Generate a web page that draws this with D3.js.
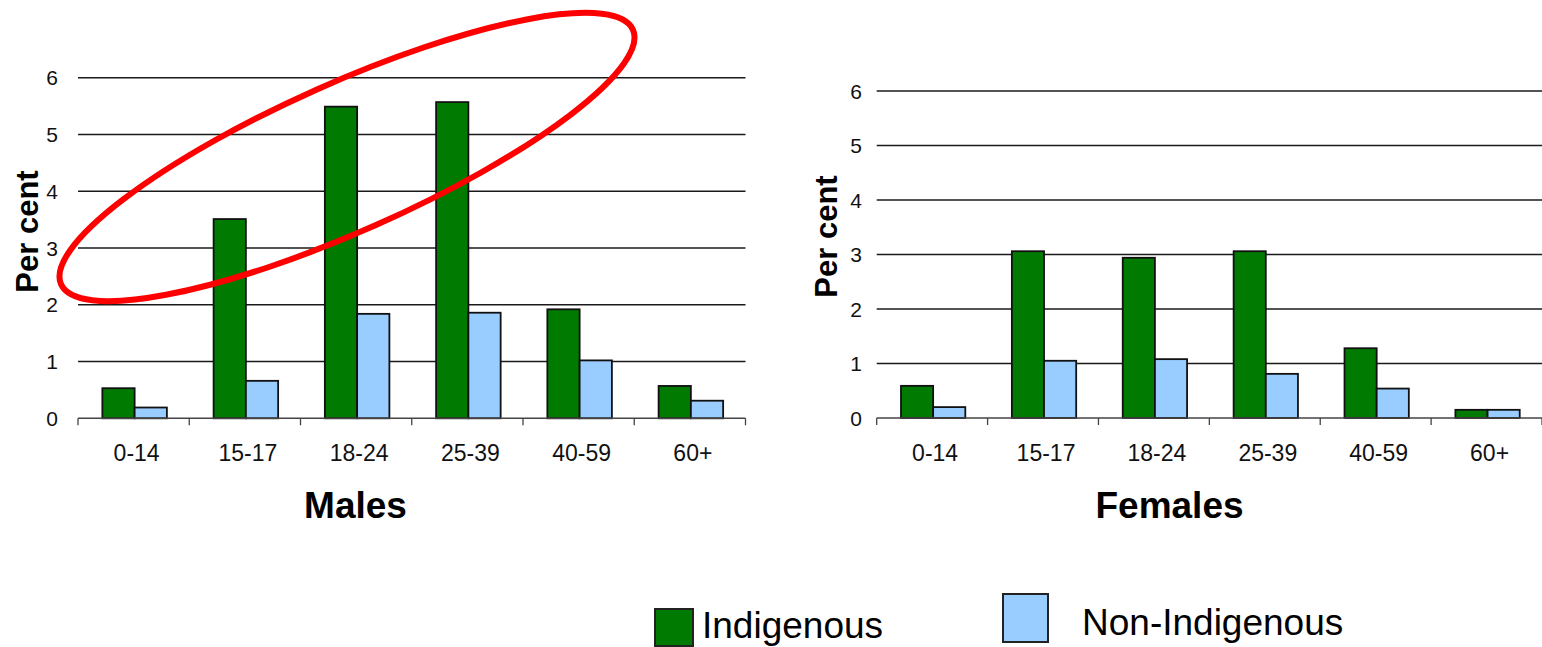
<!DOCTYPE html>
<html>
<head>
<meta charset="utf-8">
<script src="https://cdn.jsdelivr.net/npm/d3@7"></script>
<style>
  html, body { margin: 0; padding: 0; background: #fff; }
  svg { display: block; font-family: "Liberation Sans", Arial, sans-serif; }
</style>
</head>
<body>
<svg id="chart" width="1542" height="647"></svg>
<script>
// ---- data ----
const categories = ["0-14", "15-17", "18-24", "25-39", "40-59", "60+"];
const seriesNames = ["Indigenous", "Non-Indigenous"];
const seriesColors = ["#007A00", "#99CCFF"];
const malesIndigenous = [0.53, 3.51, 5.49, 5.57, 1.92, 0.57];
const malesNonIndigenous = [0.19, 0.66, 1.84, 1.86, 1.02, 0.31];
const femalesIndigenous = [0.59, 3.06, 2.94, 3.06, 1.28, 0.15];
const femalesNonIndigenous = [0.20, 1.05, 1.08, 0.81, 0.54, 0.15];
const yTicks = [0, 1, 2, 3, 4, 5, 6];
const panelTitles = ["Males", "Females"];
const yAxisLabel = "Per cent";

const svg = d3.select("#chart");

const panels = [
  { title: panelTitles[0], values: [malesIndigenous, malesNonIndigenous],
    x0: 78, x1: 745.5, yTop: 77.7, yBottom: 418.3,
    tickRight: 58, ylabX: 38, ylabY: 231.5, titleX: 355.5, titleY: 517.5 },
  { title: panelTitles[1], values: [femalesIndigenous, femalesNonIndigenous],
    x0: 876.7, x1: 1542, yTop: 91, yBottom: 418,
    tickRight: 862, ylabX: 837, ylabY: 236.5, titleX: 1169.5, titleY: 518 }
];

panels.forEach(p => {
  const g = svg.append("g");
  const x = d3.scaleBand().domain(categories).range([p.x0, p.x1]).padding(0);
  const xs = d3.scaleBand().domain(seriesNames).range([0, x.bandwidth()])
    .paddingInner(0).paddingOuter(0.724);
  const y = d3.scaleLinear().domain([0, 6]).range([p.yBottom, p.yTop]);

  // gridlines
  g.selectAll("line.grid").data(yTicks.filter(d => d > 0)).join("line")
    .attr("x1", p.x0).attr("x2", p.x1)
    .attr("y1", d => y(d)).attr("y2", d => y(d))
    .attr("stroke", "#1a1a1a").attr("stroke-width", 1.6);

  // y tick labels
  g.selectAll("text.ytick").data(yTicks).join("text")
    .attr("x", p.tickRight).attr("y", d => y(d))
    .attr("dy", "0.36em")
    .attr("text-anchor", "end")
    .attr("font-size", 21).attr("fill", "#111")
    .text(d => d);

  // y axis label
  g.append("text")
    .attr("transform", `translate(${p.ylabX},${p.ylabY}) rotate(-90)`)
    .attr("text-anchor", "middle")
    .attr("font-size", 31).attr("font-weight", "bold").attr("fill", "#000")
    .text(yAxisLabel);

  // bars
  const rows = categories.map((c, i) => ({ c, vals: seriesNames.map((s, k) => ({ s, k, v: p.values[k][i] })) }));
  const grp = g.selectAll("g.cat").data(rows).join("g")
    .attr("transform", d => `translate(${x(d.c) + 1},0)`);
  grp.selectAll("rect").data(d => d.vals).join("rect")
    .attr("x", d => xs(d.s))
    .attr("y", d => y(d.v))
    .attr("width", xs.bandwidth())
    .attr("height", d => y(0) - y(d.v))
    .attr("fill", d => seriesColors[d.k])
    .attr("stroke", "#111").attr("stroke-width", 1.8);

  // x axis line and ticks
  g.append("line")
    .attr("x1", p.x0).attr("x2", p.x1)
    .attr("y1", y(0)).attr("y2", y(0))
    .attr("stroke", "#444").attr("stroke-width", 1.5);
  const bounds = categories.map(c => x(c)).concat([p.x1]);
  g.selectAll("line.xt").data(bounds).join("line")
    .attr("x1", d => d).attr("x2", d => d)
    .attr("y1", y(0)).attr("y2", y(0) + 7)
    .attr("stroke", "#444").attr("stroke-width", 1.3);

  // x tick labels
  g.selectAll("text.xlab").data(categories).join("text")
    .attr("x", d => x(d) + x.bandwidth() / 2 + 3)
    .attr("y", 461)
    .attr("text-anchor", "middle")
    .attr("font-size", 23).attr("fill", "#111")
    .text(d => d);

  // panel title
  g.append("text")
    .attr("x", p.titleX).attr("y", p.titleY)
    .attr("text-anchor", "middle")
    .attr("font-size", 37).attr("font-weight", "bold").attr("fill", "#000")
    .text(p.title);
});

// red annotation ellipse
svg.append("ellipse")
  .attr("transform", "translate(347,157) rotate(-24)")
  .attr("cx", 0).attr("cy", 0).attr("rx", 313).attr("ry", 74)
  .attr("fill", "none").attr("stroke", "#FF0000").attr("stroke-width", 6);

// legend
const legendItems = [
  { name: seriesNames[0], color: seriesColors[0], bx: 655, by: 609, bw: 38, bh: 37, tx: 702, ty: 638 },
  { name: seriesNames[1], color: seriesColors[1], bx: 1003, by: 594, bw: 45, bh: 48, tx: 1082, ty: 635 }
];
const lg = svg.append("g");
lg.selectAll("rect").data(legendItems).join("rect")
  .attr("x", d => d.bx).attr("y", d => d.by)
  .attr("width", d => d.bw).attr("height", d => d.bh)
  .attr("fill", d => d.color).attr("stroke", "#222").attr("stroke-width", 2);
lg.selectAll("text").data(legendItems).join("text")
  .attr("x", d => d.tx).attr("y", d => d.ty)
  .attr("font-size", 37).attr("fill", "#000")
  .text(d => d.name);
</script>
</body>
</html>
